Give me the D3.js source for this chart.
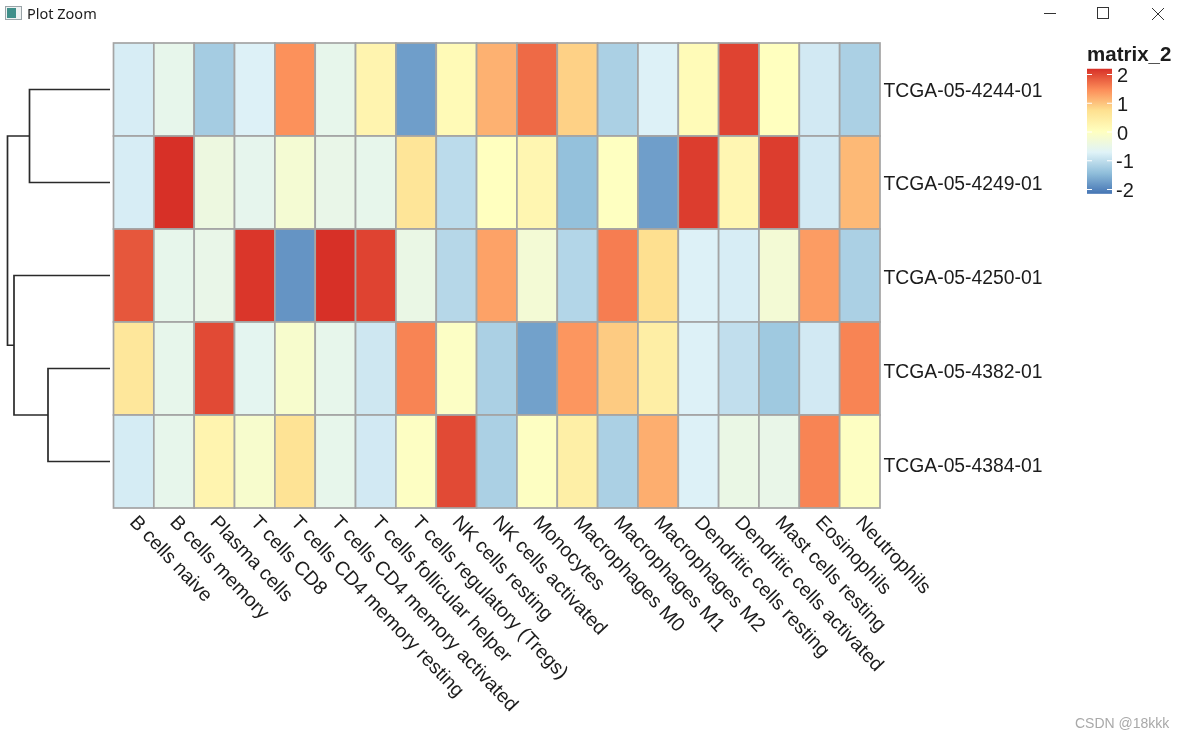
<!DOCTYPE html>
<html><head><meta charset="utf-8">
<script src="https://cdn.jsdelivr.net/npm/d3@7"></script>
<style>html,body{margin:0;padding:0;background:#fff;overflow:hidden}svg{display:block;filter:blur(0.35px)}text{font-family:"Liberation Sans",Arial,sans-serif;fill:#1c1c1c}</style>
</head><body><svg id="c" width="1184" height="736"></svg>
<script>
const columns = ["B cells naive","B cells memory","Plasma cells","T cells CD8","T cells CD4 memory resting","T cells CD4 memory activated","T cells follicular helper","T cells regulatory (Tregs)","NK cells resting","NK cells activated","Monocytes","Macrophages M0","Macrophages M1","Macrophages M2","Dendritic cells resting","Dendritic cells activated","Mast cells resting","Eosinophils","Neutrophils"];
const rows = ["TCGA-05-4244-01","TCGA-05-4249-01","TCGA-05-4250-01","TCGA-05-4382-01","TCGA-05-4384-01"];
const row1 = [-.8,-.55,-1.25,-.75,1.4,-.55,.25,-1.75,.12,1.12,1.7,.85,-1.2,-.75,.1,2.0,0,-.85,-1.2];
const row2 = [-.8,2.15,-.42,-.58,-.25,-.52,-.56,.6,-1.05,0,.22,-1.4,-.03,-1.75,2.05,.2,2.05,-.85,1.05];
const row3 = [1.85,-.55,-.52,2.1,-1.85,2.15,2.0,-.48,-1.1,1.25,-.28,-1.12,1.55,.72,-.75,-.8,-.28,1.3,-1.2];
const row4 = [.55,-.55,1.95,-.62,-.18,-.55,-.88,1.5,-.08,-1.2,-1.72,1.35,.9,.4,-.75,-1,-1.3,-.85,1.5];
const row5 = [-.82,-.55,.25,-.18,.65,-.55,-.85,-.05,1.95,-1.2,-.04,.38,-1.2,1.15,-.75,-.48,-.52,1.5,-.04];
const matrix = [row1,row2,row3,row4,row5];
const legendTicks = [2,1,0,-1,-2];
const palette = ["#4575B4","#91BFDB","#E0F3F8","#FFFFBF","#FEE090","#FC8D59","#D73027"];
const colorStops = [-2.15,-1.43,-.72,0,.72,1.43,2.15];
const tree = {h:10.25,children:[
  {h:8.05,children:[{row:0,h:0},{row:1,h:0}]},
  {h:9.6,children:[{row:2,h:0},{h:6.2,children:[{row:3,h:0},{row:4,h:0}]}]}
]};

const svg = d3.select("#c");
const x = d3.scaleBand().domain(columns).range([113.5,880]);
const y = d3.scaleBand().domain(rows).range([43,508]);
const yLabel = d3.scalePoint().domain(rows).range([90,465]);
const color = d3.scaleLinear().domain(colorStops).range(palette).clamp(true);

matrix.forEach((vals,r)=>{
  svg.append("g").selectAll("rect").data(vals).join("rect")
    .attr("x",(d,i)=>x(columns[i])).attr("y",y(rows[r]))
    .attr("width",x.bandwidth()).attr("height",y.bandwidth())
    .attr("fill",d=>color(d)).attr("stroke","#a4a4a4").attr("stroke-width",1.7);
});
svg.append("g").selectAll("text").data(rows).join("text")
  .attr("x",883.5).attr("y",d=>yLabel(d)+6.5)
  .attr("font-size",20).attr("textLength",159).attr("lengthAdjust","spacingAndGlyphs").text(d=>d);
svg.append("g").selectAll("text").data(columns).join("text")
  .attr("transform",d=>`translate(${x(d)+x.bandwidth()/2-5},${523}) rotate(46.5)`)
  .attr("font-size",19.6).text(d=>d);

const hx = d3.scaleLinear().domain([0,10.25]).range([110,7.5]);
const root = d3.hierarchy(tree);
root.eachAfter(n=>{ n.py = n.children ? d3.mean(n.children,c=>c.py) : y(rows[n.data.row])+y.bandwidth()/2; });
const dend = svg.append("g").attr("fill","none").attr("stroke","#2a2a2a").attr("stroke-width",1.7);
root.each(n=>{ if(n.children){
  const [a,b]=n.children, xn=hx(n.data.h);
  dend.append("path").attr("d",`M${hx(a.data.h)},${a.py}H${xn}V${b.py}H${hx(b.data.h)}`);
}});

const ly = d3.scaleLinear().domain([-2,2]).range([189.5,74.5]);
const defs = svg.append("defs");
const lg = defs.append("linearGradient").attr("id","lg").attr("x1",0).attr("x2",0).attr("y1",1).attr("y2",0);
colorStops.forEach((v,i)=>lg.append("stop").attr("offset",(v+2.15)/4.3).attr("stop-color",palette[i]));
svg.append("rect").attr("x",1087).attr("y",ly(2.2)).attr("width",25).attr("height",ly(-2.15)-ly(2.2)).attr("fill","url(#lg)");
const lt = svg.append("g").selectAll("g").data(legendTicks).join("g");
lt.append("path").attr("d",d=>`M1087,${ly(d)}h5M1107,${ly(d)}h5`).attr("stroke","#fff").attr("stroke-width",1);
lt.append("text").attr("x",d=>d<0?1116:1117).attr("y",d=>ly(d)+7.5).attr("font-size",20).text(d=>d<0?"-"+(-d):d);
svg.append("text").attr("x",1087).attr("y",61).attr("font-size",20.5).attr("font-weight","bold").text("matrix_2");

const icon = svg.append("g");
icon.append("rect").attr("x",5.5).attr("y",6.5).attr("width",16).attr("height",13).attr("fill","#eef2f2").attr("stroke","#9aa4a8");
icon.append("rect").attr("x",7).attr("y",8).attr("width",9).attr("height",10).attr("fill","#3f8f8a");
icon.append("text").attr("x",27).attr("y",19).attr("font-size",14.5).style("font-family","'Noto Sans',sans-serif").text("Plot Zoom");
const ch = svg.append("g").attr("stroke","#333").attr("stroke-width",1).attr("fill","none");
ch.append("path").attr("d","M1044,13.5H1056");
ch.append("rect").attr("x",1097.5).attr("y",7.5).attr("width",11).attr("height",11);
ch.append("path").attr("d","M1152,8L1164,20M1164,8L1152,20");
svg.append("text").attr("x",1075).attr("y",728).attr("font-size",14).style("fill","#a9a9a9").text("CSDN @18kkk");
</script></body></html>
